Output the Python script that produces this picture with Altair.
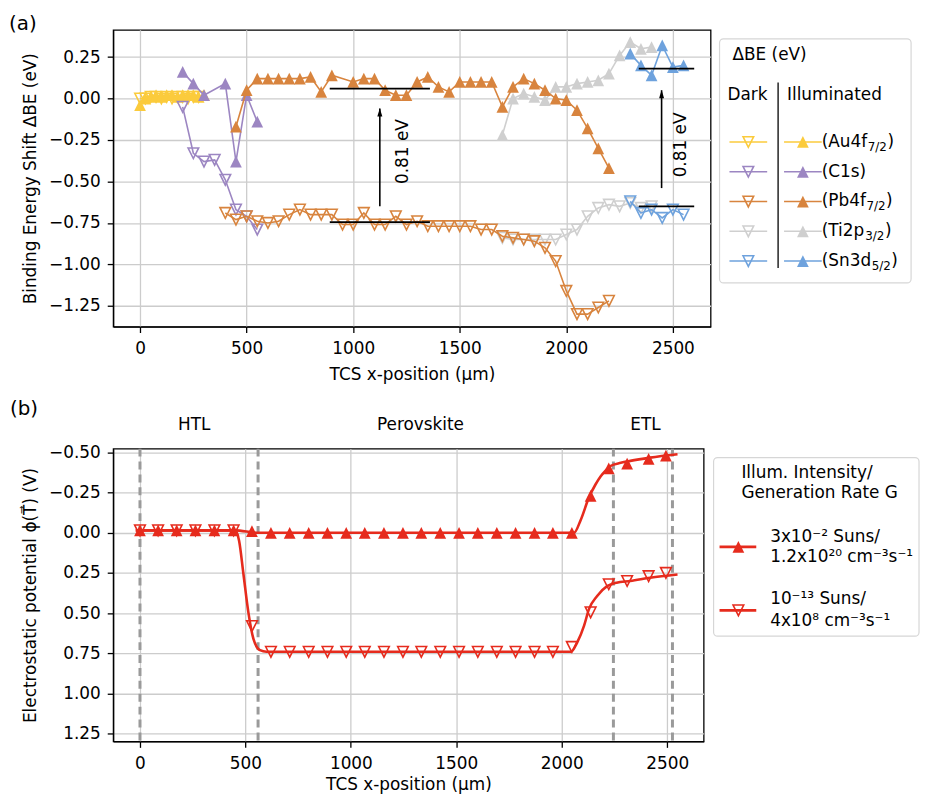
import altair as alt
import pandas as pd

FONT = "DejaVu Sans"
FS = 17
UP = "M-1,1L0,-1L1,1Z"
DOWN = "M-1,-1L0,1L1,-1Z"
HEAD = "M-0.6,1L0,-1L0.6,1Z"

# ---------------- Panel (a) data ----------------
elements = ["Au", "C1s", "Pb", "Ti", "Sn"]
colors = ["#FBCB3C", "#9C86C2", "#D8843E", "#CFCFCF", "#6EA2DD"]
draw_order = ["Au", "C1s", "Ti", "Pb", "Sn"]

au_dark_x = [0, 25, 50, 75, 100, 125, 150, 175, 200, 225, 250, 275]
au_dark_y = [0.00, 0.00, 0.01, 0.01, 0.00, 0.01, 0.00, 0.01, 0.01, 0.00, 0.01, 0.01]
au_ill_x = [0, 25, 50, 75, 100, 125, 150, 175, 200, 225, 250, 275, 300]
au_ill_y = [-0.04, 0.00, 0.01, 0.02, 0.01, 0.02, 0.02, 0.01, 0.02, 0.02, 0.02, 0.01, 0.02]

c1s_dark_x = [200, 250, 300, 350, 400, 450, 500, 550]
c1s_dark_y = [-0.05, -0.33, -0.38, -0.37, -0.49, -0.67, -0.71, -0.79]
c1s_ill_x = [200, 250, 300, 400, 450, 500, 550]
c1s_ill_y = [0.16, 0.09, 0.02, 0.09, -0.38, 0.02, -0.14]

pb_dark_x = [400, 450, 500, 550, 600, 650, 700, 750, 800, 850, 900, 950, 1000, 1050,
             1100, 1150, 1200, 1250, 1300, 1350, 1400, 1450, 1500, 1550, 1600, 1650,
             1700, 1750, 1800, 1850, 1900, 1950, 2000, 2050, 2100, 2150, 2200]
pb_dark_y = [-0.69, -0.73, -0.71, -0.74, -0.75, -0.74, -0.70, -0.67, -0.70, -0.70, -0.70,
             -0.76, -0.76, -0.69, -0.76, -0.76, -0.71, -0.76, -0.74, -0.77, -0.77, -0.77,
             -0.77, -0.77, -0.79, -0.79, -0.83, -0.84, -0.85, -0.86, -0.90, -0.98, -1.16,
             -1.30, -1.30, -1.26, -1.22]
pb_ill_x = [450, 500, 550, 600, 650, 700, 750, 800, 850, 900, 1000, 1050, 1100, 1150,
            1200, 1250, 1300, 1350, 1400, 1450, 1500, 1550, 1600, 1650, 1700, 1750, 1800,
            1850, 1900, 1950, 2000, 2050, 2100, 2150, 2200]
pb_ill_y = [-0.17, 0.05, 0.12, 0.12, 0.12, 0.12, 0.12, 0.13, 0.04, 0.14, 0.10, 0.12, 0.12,
            0.05, 0.02, 0.02, 0.10, 0.13, 0.07, 0.04, 0.10, 0.10, 0.10, 0.10, -0.05, 0.07,
            0.12, 0.09, 0.05, 0.00, -0.01, -0.07, -0.18, -0.30, -0.42]

ti_dark_x = [1700, 1750, 1800, 1850, 1900, 1950, 2000, 2050, 2100, 2150, 2200, 2250, 2300, 2350, 2400]
ti_dark_y = [-0.84, -0.85, -0.85, -0.85, -0.85, -0.85, -0.82, -0.79, -0.71, -0.66, -0.64,
             -0.65, -0.63, -0.66, -0.65]
ti_ill_x = [1700, 1750, 1800, 1850, 1900, 1950, 2000, 2050, 2100, 2150, 2200, 2250, 2300, 2350, 2400]
ti_ill_y = [-0.22, 0.00, 0.03, 0.01, -0.01, 0.07, 0.07, 0.09, 0.10, 0.11, 0.15, 0.26, 0.34, 0.30, 0.31]

sn_dark_x = [2300, 2350, 2400, 2450, 2500, 2550]
sn_dark_y = [-0.62, -0.69, -0.67, -0.72, -0.67, -0.70]
sn_ill_x = [2300, 2350, 2400, 2450, 2500, 2550]
sn_ill_y = [0.27, 0.20, 0.14, 0.32, 0.19, 0.20]

series_a = {
    "Au": (au_dark_x, au_dark_y, au_ill_x, au_ill_y),
    "C1s": (c1s_dark_x, c1s_dark_y, c1s_ill_x, c1s_ill_y),
    "Pb": (pb_dark_x, pb_dark_y, pb_ill_x, pb_ill_y),
    "Ti": (ti_dark_x, ti_dark_y, ti_ill_x, ti_ill_y),
    "Sn": (sn_dark_x, sn_dark_y, sn_ill_x, sn_ill_y),
}

# reference levels, arrows and labels
lvl_x1 = [890, 890, 2340, 2340]
lvl_x2 = [1360, 1360, 2600, 2600]
lvl_y = [0.06, -0.745, 0.18, -0.65]
arrow_x = [1125, 2447]
arrow_y1 = [-0.65, -0.54]
arrow_y2 = [-0.06, 0.05]
note_x = [1234, 2537]
note_y = [-0.32, -0.28]
note_text = ["0.81 eV", "0.81 eV"]

leg_prefix = ["(Au4f", "(C1s)", "(Pb4f", "(Ti2p", "(Sn3d"]
leg_sub = ["7/2", "", "7/2", "3/2", "5/2"]

# ---------------- Panel (b) data ----------------
red = "#E62B1D"
xb = [0, 86, 174, 263, 353, 444, 531, 621, 710, 800, 889, 978, 1066, 1157, 1247, 1334,
      1424, 1513, 1602, 1692, 1781, 1871, 1958, 2048, 2137, 2223, 2310, 2412, 2494]
phi_ill = [-0.015, -0.015, -0.015, -0.015, -0.015, -0.015, -0.01, 0.0, 0.0, 0.0, 0.0, 0.0,
           0.0, 0.0, 0.0, 0.0, 0.0, 0.0, 0.0, 0.0, 0.0, 0.0, 0.0, 0.0, -0.23, -0.40, -0.43,
           -0.46, -0.48]
phi_dark = [-0.015, -0.015, -0.015, -0.015, -0.015, -0.015, 0.58, 0.74, 0.74, 0.74, 0.74,
            0.74, 0.74, 0.74, 0.74, 0.74, 0.74, 0.74, 0.74, 0.74, 0.74, 0.74, 0.74, 0.71,
            0.495, 0.32, 0.30, 0.27, 0.25]
curve_ill_x = [-20, 450, 560, 2058, 2090, 2129, 2160, 2184, 2210, 2231, 2280, 2325, 2419, 2549]
curve_ill_y = [-0.015, -0.015, 0.0, 0.0, -0.08, -0.22, -0.30, -0.35, -0.39, -0.415, -0.435,
               -0.447, -0.467, -0.488]
curve_dark_x = [-20, 450, 470, 490, 514, 538, 569, 600, 2043, 2074, 2106, 2129, 2168, 2215,
                2260, 2325, 2419, 2549]
curve_dark_y = [-0.015, -0.015, 0.05, 0.25, 0.495, 0.66, 0.73, 0.74, 0.74, 0.68, 0.577,
                0.475, 0.393, 0.332, 0.31, 0.30, 0.28, 0.26]
boundaries = [0, 560, 2245, 2525]
region_x = [257, 1330, 2397]
region_text = ["HTL", "Perovskite", "ETL"]
leg_b_title = ["Illum. Intensity/", "Generation Rate G"]
leg_b_ill = ["3x10\u207b\u00b2 Suns/", "1.2x10\u00b2\u2070 cm\u207b\u00b3s\u207b\u00b9"]
leg_b_dark = ["10\u207b\u00b9\u00b3 Suns/", "4x10\u2078 cm\u207b\u00b3s\u207b\u00b9"]

# ---------------- helpers ----------------
CW = {"(": 0.390, ")": 0.390, "A": 0.684, "u": 0.634, "4": 0.636, "f": 0.352, "C": 0.698,
      "1": 0.636, "s": 0.521, "P": 0.603, "b": 0.635, "T": 0.611, "i": 0.278, "2": 0.636,
      "p": 0.635, "S": 0.635, "n": 0.634, "3": 0.636, "d": 0.635, "7": 0.636, "/": 0.337,
      "5": 0.636}


def tw(s, fs):
    return sum(CW.get(c, 0.6) for c in s) * fs


one = pd.DataFrame({"k": [0]})

# ---------------- Panel (a) ----------------
xs_a = alt.Scale(domain=[-126, 2677], nice=False, zero=False)
ys_a = alt.Scale(domain=[-1.375, 0.414], nice=False, zero=False)
ax_xa = alt.Axis(values=[0, 500, 1000, 1500, 2000, 2500], format="d",
                 title="TCS x-position (µm)", titlePadding=10)
ax_ya = alt.Axis(values=[-1.25, -1.0, -0.75, -0.5, -0.25, 0.0, 0.25], format=".2f",
                 title="Binding Energy Shift ΔBE (eV)")


def XA(f):
    return alt.X(f, type="quantitative", scale=xs_a, axis=ax_xa)


def YA(f):
    return alt.Y(f, type="quantitative", scale=ys_a, axis=ax_ya)


main_a = []
for el in draw_order:
    c = colors[elements.index(el)]
    dx, dy, ix, iy = series_a[el]
    for xs, ys, dark in ((dx, dy, True), (ix, iy, False)):
        df = pd.DataFrame({"x": xs, "y": ys})
        base = alt.Chart(df).encode(x=XA("x"), y=YA("y"))
        main_a.append(base.mark_line(color=c, strokeWidth=1.6))
        if dark:
            main_a.append(base.mark_point(shape=DOWN, filled=False, color=c, size=115,
                                          strokeWidth=1.6, opacity=1))
        else:
            main_a.append(base.mark_point(shape=UP, filled=True, color=c, size=140, opacity=1))

lvl_df = pd.DataFrame({"x1": lvl_x1, "x2": lvl_x2, "y": lvl_y})
main_a.append(alt.Chart(lvl_df).mark_rule(color="black", strokeWidth=1.8).encode(
    x=XA("x1"), x2="x2", y=YA("y")))
arr_df = pd.DataFrame({"x": arrow_x, "y1": arrow_y1, "y2": arrow_y2})
main_a.append(alt.Chart(arr_df).mark_rule(color="black", strokeWidth=1.6).encode(
    x=XA("x"), y=YA("y1"), y2="y2"))
main_a.append(alt.Chart(arr_df).mark_point(shape=HEAD, filled=True, color="black", size=70,
                                           opacity=1, yOffset=4).encode(x=XA("x"), y=YA("y2")))
note_df = pd.DataFrame({"x": note_x, "y": note_y, "t": note_text})
main_a.append(alt.Chart(note_df).mark_text(angle=270, fontSize=FS, font=FONT, color="black",
                                           align="center", baseline="middle").encode(
    x=XA("x"), y=YA("y"), text="t:N"))

# legend (a)
leg_df = pd.DataFrame({"el": elements, "c": colors, "pre": leg_prefix, "sub": leg_sub})
ROWY = alt.Y("el:N", sort=elements, axis=None,
             scale=alt.Scale(type="point", range=[113, 233], padding=0))
col_a = alt.Color("c:N", scale=None)
LX = 714
leg_a = [
    alt.Chart(one).mark_rect(fill="white", stroke="#d6d6d6", strokeWidth=1.2, cornerRadius=4).encode(
        x=alt.value(611), x2=alt.value(804), y=alt.value(9), y2=alt.value(255)),
    alt.Chart(one).mark_text(text="ΔBE (eV)", align="left", baseline="middle", fontSize=FS,
                             font=FONT, color="black").encode(x=alt.value(624), y=alt.value(25)),
    alt.Chart(one).mark_text(text="Dark", align="left", baseline="middle", fontSize=FS,
                             font=FONT, color="black").encode(x=alt.value(619), y=alt.value(66)),
    alt.Chart(one).mark_text(text="Illuminated", align="left", baseline="middle", fontSize=FS,
                             font=FONT, color="black").encode(x=alt.value(679), y=alt.value(66)),
    alt.Chart(one).mark_rule(color="black", strokeWidth=1.3).encode(
        x=alt.value(670), y=alt.value(53), y2=alt.value(240)),
    alt.Chart(leg_df).mark_rule(strokeWidth=1.6).encode(
        x=alt.value(621), x2=alt.value(659), y=ROWY, color=col_a),
    alt.Chart(leg_df).mark_rule(strokeWidth=1.6).encode(
        x=alt.value(676), x2=alt.value(714), y=ROWY, color=col_a),
    alt.Chart(leg_df).mark_point(shape=DOWN, filled=False, size=115, strokeWidth=1.6,
                                 opacity=1).encode(x=alt.value(640), y=ROWY, color=col_a),
    alt.Chart(leg_df).mark_point(shape=UP, filled=True, size=140, opacity=1).encode(
        x=alt.value(695), y=ROWY, color=col_a),
    alt.Chart(leg_df).mark_text(align="left", baseline="middle", fontSize=FS, font=FONT,
                                color="black").encode(x=alt.value(LX), y=ROWY, text="pre:N"),
]
for el, pre, sub in zip(elements, leg_prefix, leg_sub):
    if not sub:
        continue
    sx = LX + tw(pre, FS) + 0.5
    cx = sx + tw(sub, 12) + 0.5
    leg_a.append(alt.Chart(leg_df).transform_filter(alt.datum.el == el).mark_text(
        align="left", baseline="middle", fontSize=12, font=FONT, color="black", yOffset=5).encode(
        x=alt.value(sx), y=ROWY, text="sub:N"))
    leg_a.append(alt.Chart(leg_df).transform_filter(alt.datum.el == el).mark_text(
        text=")", align="left", baseline="middle", fontSize=FS, font=FONT, color="black").encode(
        x=alt.value(cx), y=ROWY))
leg_a.append(alt.Chart(one).mark_text(text="(a)", align="left", baseline="middle", fontSize=20,
                                      font=FONT, color="black").encode(
    x=alt.value(-105), y=alt.value(-6)))

panel_a = alt.layer(alt.layer(*main_a), alt.layer(*leg_a)).resolve_scale(
    y="independent").properties(width=602, height=299)

# ---------------- Panel (b) ----------------
xs_b = alt.Scale(domain=[-127, 2673], nice=False, zero=False)
ys_b = alt.Scale(domain=[-0.523, 1.297], nice=False, zero=False, reverse=True)
ax_xb = alt.Axis(values=[0, 500, 1000, 1500, 2000, 2500], format="d",
                 title="TCS x-position (µm)", titlePadding=5)
ax_yb = alt.Axis(values=[-0.5, -0.25, 0.0, 0.25, 0.5, 0.75, 1.0, 1.25], format=".2f",
                 title="Electrostatic potential ϕ(T\u20d7) (V)")


def XB(f):
    return alt.X(f, type="quantitative", scale=xs_b, axis=ax_xb)


def YB(f):
    return alt.Y(f, type="quantitative", scale=ys_b, axis=ax_yb)


bnd_df = pd.DataFrame({"x": boundaries})
ci_df = pd.DataFrame({"x": curve_ill_x, "y": curve_ill_y})
cd_df = pd.DataFrame({"x": curve_dark_x, "y": curve_dark_y})
pts_df = pd.DataFrame({"x": xb, "ill": phi_ill, "dark": phi_dark})
reg_df = pd.DataFrame({"x": region_x, "t": region_text})

main_b = [
    alt.Chart(bnd_df).mark_rule(color="#9a9a9a", strokeWidth=3, strokeDash=[8, 5]).encode(x=XB("x")),
    alt.Chart(ci_df).mark_line(color=red, strokeWidth=2.6, interpolate="monotone").encode(
        x=XB("x"), y=YB("y")),
    alt.Chart(pts_df).mark_point(shape=UP, filled=True, color=red, size=140, opacity=1).encode(
        x=XB("x"), y=YB("ill")),
    alt.Chart(cd_df).mark_line(color=red, strokeWidth=2.6, interpolate="monotone").encode(
        x=XB("x"), y=YB("y")),
    alt.Chart(pts_df).mark_point(shape=DOWN, filled=False, color=red, size=115, strokeWidth=1.6,
                                 opacity=1).encode(x=XB("x"), y=YB("dark")),
    alt.Chart(reg_df).mark_text(fontSize=FS, font=FONT, color="black", align="center",
                                baseline="middle").encode(x=XB("x"), y=alt.value(-24), text="t:N"),
]


def txt(s, x, y, fs=FS):
    return alt.Chart(one).mark_text(text=s, align="left", baseline="middle", fontSize=fs,
                                    font=FONT, color="black").encode(x=alt.value(x), y=alt.value(y))


leg_b = [
    alt.Chart(one).mark_rect(fill="white", stroke="#d6d6d6", strokeWidth=1.2, cornerRadius=4).encode(
        x=alt.value(605), x2=alt.value(812), y=alt.value(9), y2=alt.value(189)),
    txt(leg_b_title[0], 633, 25),
    txt(leg_b_title[1], 633, 45),
    alt.Chart(one).mark_rule(color=red, strokeWidth=2.6).encode(
        x=alt.value(611), x2=alt.value(648), y=alt.value(99)),
    alt.Chart(one).mark_point(shape=UP, filled=True, color=red, size=140, opacity=1).encode(
        x=alt.value(630), y=alt.value(99)),
    txt(leg_b_ill[0], 662, 89),
    txt(leg_b_ill[1], 662, 109),
    alt.Chart(one).mark_rule(color=red, strokeWidth=2.6).encode(
        x=alt.value(611), x2=alt.value(648), y=alt.value(163)),
    alt.Chart(one).mark_point(shape=DOWN, filled=False, color=red, size=115,
                              strokeWidth=1.6, opacity=1).encode(x=alt.value(630), y=alt.value(163)),
    txt(leg_b_dark[0], 662, 152),
    txt(leg_b_dark[1], 662, 174),
    txt("(b)", -104, -40, 20),
]

panel_b = alt.layer(*main_b, *leg_b).properties(width=595, height=295)

chart = alt.vconcat(panel_a, panel_b, spacing=15).properties(
    padding={"left": 0, "right": 0, "top": 2, "bottom": 0}
).configure(font=FONT).configure_view(stroke="black", strokeWidth=1.3).configure_axis(
    labelFont=FONT, titleFont=FONT, labelFontSize=FS, titleFontSize=FS, labelColor="black",
    titleColor="black", titleFontWeight="normal", tickColor="black", domainColor="black",
    tickWidth=1.3, domainWidth=1.3, tickSize=6, grid=True, gridColor="#cccccc", gridWidth=1.3
).configure_axisX(labelPadding=8).configure_axisY(labelPadding=7, titlePadding=9)

chart.save("out.html", embed_options={"renderer": "svg", "actions": False})
